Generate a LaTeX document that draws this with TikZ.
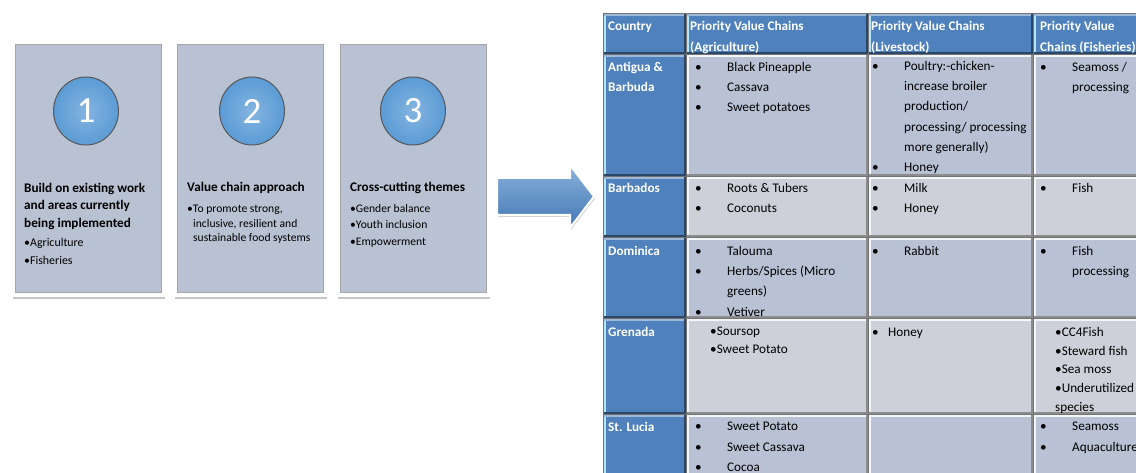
\documentclass[tikz,border=0pt]{standalone}
\usepackage{fontspec}
\setmainfont{Carlito}
\usepackage{tikz}
\usetikzlibrary{shapes.geometric,shadows}

\definecolor{panelgrey}{RGB}{185,194,210}
\definecolor{ballblue}{RGB}{91,155,213}
\definecolor{tblue}{RGB}{79,129,189}
\definecolor{cellA}{RGB}{184,194,212}
\definecolor{cellB}{RGB}{205,208,216}
\definecolor{arrowblue}{RGB}{74,134,200}

\newcommand{\bl}{\makebox[32pt][l]{\textbullet}}
\newcommand{\ct}{\hspace*{32pt}}

\begin{document}
\begin{tikzpicture}[x=1pt,y=-1pt]
    %
    % `panel' is the grey card behind each step, `ball' the numbered disc.
    % `cell' and `bluecell' are the bevelled table cells.
    % Text nodes are placed at the baseline of their first line.
    \tikzstyle{panel} = [fill=panelgrey,draw=white,line width=4pt,minimum width=151pt,minimum height=253pt,inner sep=0pt,drop shadow={opacity=.45,shadow xshift=1pt,shadow yshift=-2pt,shadow scale=1.01},path picture={\draw[black!35,line width=6pt] (path picture bounding box.south west) rectangle (path picture bounding box.north east);}]
    \tikzstyle{ball} = [ellipse,draw=black!65,line width=1pt,minimum width=65pt,minimum height=68pt,inner sep=0pt,shading=radial,inner color=ballblue!75!white,outer color=ballblue,text=white,font=\fontsize{37}{37}\selectfont]
    \tikzstyle{celltext} = [anchor=north west,yshift=12pt,inner sep=0pt,align=left,execute at begin node={\rule{0pt}{12pt}},font=\fontsize{13.2}{20.3}\selectfont]
    \tikzstyle{title} = [celltext,font=\bfseries\fontsize{13.2}{17.5}\selectfont]
    \tikzstyle{hdtext} = [celltext,text=white,font=\bfseries\fontsize{13.2}{21}\selectfont]
    \tikzstyle{cell} = [anchor=north west,inner sep=0pt,draw=black!55,line width=.8pt,path picture={\draw[white!85!cellA,line width=6pt] (path picture bounding box.south west) -- (path picture bounding box.north west) -- (path picture bounding box.north east); \draw[black!45,line width=5pt] (path picture bounding box.north east) -- (path picture bounding box.south east) -- (path picture bounding box.south west);}]
    \tikzstyle{bluecell} = [cell,fill=tblue,path picture={\draw[cyan!30,line width=6pt] (path picture bounding box.south west) -- (path picture bounding box.north west); \draw[tblue!55!white,line width=5pt] (path picture bounding box.north west) -- (path picture bounding box.north east); \draw[tblue!55!black,line width=5pt] (path picture bounding box.north east) -- (path picture bounding box.south east) -- (path picture bounding box.south west);}]
    \tikzstyle{bigarrow} = [draw=white,line width=2pt,top color=arrowblue!65!white,bottom color=arrowblue!90!black,drop shadow={opacity=.35,shadow xshift=1pt,shadow yshift=-2pt}]
    %
    \clip (0,0) rectangle (1136,473);
    \fill[white] (0,0) rectangle (1136,473);
    %
    % Steps
    \node[panel] (p1) at (88,169) {};
    \node[panel] (p2) at (250,169) {};
    \node[panel] (p3) at (413,169) {};
    \node[ball] (b1) at (86,111) {1};
    \node[ball] (b2) at (252,111) {2};
    \node[ball] (b3) at (413,111) {3};
    %
    \node[title] (t1) at (24,195) {Build on existing work\\and areas currently\\being implemented};
    \node[celltext,font=\fontsize{11.9}{18}\selectfont] (l1) at (24,250) {\textbullet Agriculture\\\textbullet Fisheries};
    \node[title] (t2) at (187,191) {Value chain approach};
    \node[celltext,font=\fontsize{11.6}{14.5}\selectfont] (l2) at (187,217) {\textbullet To promote strong,\\\hspace*{6pt}inclusive, resilient and\\\hspace*{6pt}sustainable food systems};
    \node[title] (t3) at (350,191) {Cross-cutting themes};
    \node[celltext,font=\fontsize{11.6}{16.5}\selectfont] (l3) at (350,216) {\textbullet Gender balance\\\textbullet Youth inclusion\\\textbullet Empowerment};
    %
    % Arrow
    \draw[bigarrow] (497,178) -- (570,178) -- (570,165) -- (594,196.5) -- (570,228) -- (570,215) -- (497,215) -- cycle;
    %
    % Table header
    \node[bluecell,minimum width=83pt,minimum height=41pt] (hc) at (603,13) {};
    \node[bluecell,minimum width=182pt,minimum height=41pt] (ha) at (686,13) {};
    \node[bluecell,minimum width=165pt,minimum height=41pt] (hl) at (868,13) {};
    \node[bluecell,minimum width=112pt,minimum height=41pt] (hf) at (1033,13) {};
    %
    % Table rows
    \foreach \r/\y/\h/\f in {1/54/122/cellA, 2/176/61/cellB, 3/237/81/cellA, 4/318/96/cellB, 5/414/66/cellA} {
        \node[bluecell,minimum width=83pt,minimum height=\h pt] (c\r) at (603,\y) {};
        \node[cell,fill=\f,minimum width=182pt,minimum height=\h pt] (a\r) at (686,\y) {};
        \node[cell,fill=\f,minimum width=165pt,minimum height=\h pt] (v\r) at (868,\y) {};
        \node[cell,fill=\f,minimum width=112pt,minimum height=\h pt] (f\r) at (1033,\y) {};
    }
    %
    % Header texts
    \node[hdtext] (thc) at (608,30) {Country};
    \node[hdtext] (tha) at (690,33) {Priority Value Chains\\(Agriculture)};
    \node[hdtext] (thl) at (871,33) {Priority Value Chains\\(Livestock)};
    \node[hdtext] (thf) at (1040,33) {Priority Value\\Chains (Fisheries)};
    %
    % Countries
    \node[hdtext,font=\bfseries\fontsize{13.2}{20.3}\selectfont] (tc1) at (608,74) {Antigua \&\\Barbuda};
    \node[hdtext] (tc2) at (608,192) {Barbados};
    \node[hdtext] (tc3) at (608,255) {Dominica};
    \node[hdtext] (tc4) at (608,336) {Grenada};
    \node[hdtext] (tc5) at (608,431) {St. Lucia};
    %
    % Agriculture
    \node[celltext] (ta1) at (695,74) {\bl Black Pineapple\\\bl Cassava\\\bl Sweet potatoes};
    \node[celltext] (ta2) at (695,195) {\bl Roots \& Tubers\\\bl Coconuts};
    \node[celltext] (ta3) at (695,258) {\bl Talouma\\\bl Herbs/Spices (Micro\\\ct greens)\\\bl Vetiver};
    \node[celltext,font=\fontsize{13.2}{18}\selectfont] (ta4) at (710,339) {\textbullet Soursop\\\textbullet Sweet Potato};
    \node[celltext] (ta5) at (695,434) {\bl Sweet Potato\\\bl Sweet Cassava\\\bl Cocoa};
    %
    % Livestock
    \node[celltext] (tl1) at (872,73) {\bl Poultry:-chicken-\\\ct increase broiler\\\ct production/\\\ct processing/ processing\\\ct more generally)\\\bl Honey};
    \node[celltext] (tl2) at (872,195) {\bl Milk\\\bl Honey};
    \node[celltext] (tl3) at (872,255) {\bl Rabbit};
    \node[celltext] (tl4) at (872,336) {\makebox[16pt][l]{\textbullet}Honey};
    %
    % Fisheries
    \node[celltext] (tf1) at (1040,74) {\bl Seamoss /\\\ct processing};
    \node[celltext] (tf2) at (1040,192) {\bl Fish};
    \node[celltext] (tf3) at (1040,258) {\bl Fish\\\ct processing};
    \node[celltext,font=\fontsize{13.2}{18.8}\selectfont] (tf4) at (1055,339) {\textbullet CC4Fish\\\textbullet Steward fish\\\textbullet Sea moss\\\textbullet Underutilized\\species};
    \node[celltext] (tf5) at (1040,434) {\bl Seamoss\\\bl Aquaculture};
    %
\end{tikzpicture}
\end{document}
